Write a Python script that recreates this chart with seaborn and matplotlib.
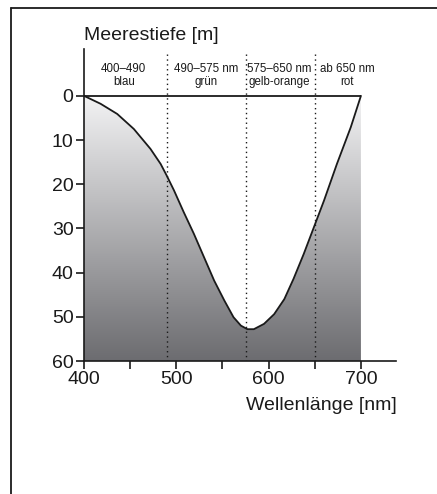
import matplotlib.pyplot as plt
import numpy as np
import pandas as pd
import seaborn as sns
from matplotlib import font_manager
from matplotlib.colors import LinearSegmentedColormap
from matplotlib.lines import Line2D

# depth of light penetration per wavelength
wavelength = [400, 418, 436, 454, 472, 483, 489.5, 497.5, 508, 519, 530, 541,
              552, 562, 570, 577, 584, 595, 606, 617, 627, 638, 650, 660,
              674, 689, 700]
depth = [0, 1.8, 4.1, 7.5, 12.0, 15.4, 18.0, 21.4, 26.3, 31.2, 36.5, 41.8,
         46.3, 50.1, 52.0, 52.8, 52.8, 51.6, 49.4, 46.0, 41.4, 35.8, 29.2,
         23.7, 15.4, 7.1, 0]

band_edges = [490, 575, 650]
band_label_x = [443, 532, 612, 685]
band_labels = ["400\u2013490\nblau", "490\u2013575 nm\ngr\u00fcn",
               "575\u2013650 nm\ngelb-orange", "ab 650 nm\nrot"]

x_ticks = [400, 450, 500, 550, 600, 650, 700]
x_tick_labels = ["400", "", "500", "", "600", "", "700"]
y_ticks = [0, 10, 20, 30, 40, 50, 60]

df = pd.DataFrame({"wellenlaenge": wavelength, "tiefe": depth})

sns.set_style("ticks")
plt.rcParams["font.family"] = ["Liberation Sans", "DejaVu Sans"]
names = {f.name for f in font_manager.fontManager.ttflist}
narrow = "Liberation Sans Narrow" if "Liberation Sans Narrow" in names else "Liberation Sans"

fig = plt.figure(figsize=(4.37, 4.94), dpi=100)
ax = fig.add_axes([84 / 437, 1 - 361 / 494, 312 / 437, 312 / 494])

# gradient fill below the curve
cmap = LinearSegmentedColormap.from_list("grau", ["#f3f3f4", "#6c6c70"])
grad = np.linspace(0, 1, 256).reshape(-1, 1)
img = ax.imshow(grad, cmap=cmap, extent=[400, 700, 60, 0], aspect="auto",
                origin="upper", zorder=1)
poly = ax.fill_between(df["wellenlaenge"], df["tiefe"], 60, color="none", lw=0)
clip = poly.get_paths()[0]
img.set_clip_path(clip, transform=ax.transData)

sns.lineplot(data=df, x="wellenlaenge", y="tiefe", ax=ax, color="#1a1a1a",
             lw=1.3, zorder=3)
ax.hlines(0, 400, 700, color="#1a1a1a", lw=1.3, zorder=3)

for xe in band_edges:
    ax.vlines(xe, -9.5, 60, color="#1a1a1a", lw=1.0, linestyles=(0, (1, 2.5)),
              zorder=2)

for xl, txt in zip(band_label_x, band_labels):
    ax.text(xl, -4.6, txt, ha="center", va="center", fontsize=8.3,
            family=narrow, color="#1a1a1a", linespacing=1.05)

ax.set_xlim(400, 738)
ax.set_ylim(60, -10.6)
ax.set_xticks(x_ticks)
ax.set_xticklabels(x_tick_labels)
ax.set_yticks(y_ticks)
ax.tick_params(direction="out", length=6, width=1.2, colors="#1a1a1a",
               labelsize=14, pad=1.5)
ax.set_xlabel("")
ax.set_ylabel("")
for side in ["top", "right"]:
    ax.spines[side].set_visible(False)
for side in ["left", "bottom"]:
    ax.spines[side].set_linewidth(1.2)
    ax.spines[side].set_color("#1a1a1a")

fig.text(84 / 437, 1 - 36 / 494, "Meerestiefe [m]", ha="left", va="center",
         fontsize=14, color="#1a1a1a")
fig.text(397 / 437, 1 - 405 / 494, "Wellenl\u00e4nge [nm]", ha="right",
         va="center", fontsize=14, color="#1a1a1a")

# frame on the left and top
fig.add_artist(Line2D([10.5 / 437, 10.5 / 437], [0, 1 - 8 / 494],
                      transform=fig.transFigure, color="#1a1a1a", lw=1.3))
fig.add_artist(Line2D([10.5 / 437, 1], [1 - 8 / 494, 1 - 8 / 494],
                      transform=fig.transFigure, color="#1a1a1a", lw=1.3))

fig.savefig("out.png", dpi=100)
